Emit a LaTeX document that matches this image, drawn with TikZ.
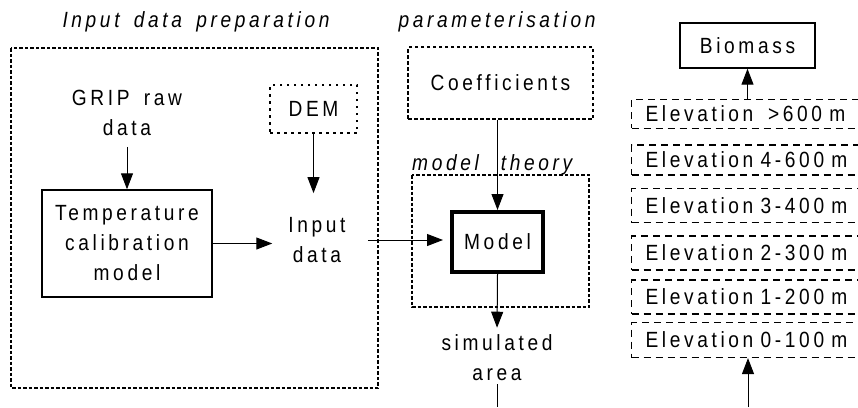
\documentclass[tikz,border=0pt]{standalone}
\usepackage{fontspec}
\setmainfont{Liberation Sans}[FakeStretch=0.87,LetterSpace=16.5,WordSpace=1.6]
\usetikzlibrary{arrows.meta}

\begin{document}
\begin{tikzpicture}[x=1pt,y=-1pt,
  every node/.style={font=\fontsize{22}{30}\selectfont, align=center},
  txt/.style={inner sep=0pt},
  lab/.style={inner sep=0pt, font=\fontsize{22}{30}\selectfont\itshape},
  box/.style={draw, line width=1.4pt, inner sep=0pt},
  dbox/.style={draw, line width=1.2pt, dash pattern=on 3.5pt off 2.5pt, inner sep=0pt},
  dotbox/.style={draw, line width=1.2pt, dash pattern=on 2.5pt off 4.5pt, inner sep=0pt},
  frame/.style={line width=1.2pt, dash pattern=on 3.5pt off 2pt},
  elev/.style={draw, line width=1.2pt, dash pattern=on 7pt off 5pt, anchor=west,
    text width=215pt, align=left, inner xsep=14pt, inner ysep=0pt},
  arr/.style={line width=1pt, -{Triangle[length=16pt,width=12pt]}}]

\clip (0,0) rectangle (858,407);

%% Input data preparation
\node[lab] (prep) at (196,22) {Input data preparation};
\draw[frame] (11,48) rectangle (378,388);

\node[txt] (grip) at (127,113) {GRIP raw\\data};
\node[box, minimum width=170pt, minimum height=107pt] (temp) at (127,243.5) {Temperature\\calibration\\model};
\node[dotbox, minimum width=87pt, minimum height=48pt] (dem) at (313.5,109) {DEM};
\node[txt] (input) at (317,240) {Input\\data};

\draw[arr] ([yshift=-11pt]grip.south) -- (temp.north);
\draw[arr, shorten >=24pt] (dem.south) -- (dem.south |- input.north);
\draw[arr, shorten >=16pt] (temp.east) -- (temp.east -| input.west);

%% parameterisation
\node[lab] (param) at (497,22) {parameterisation};
\node[dbox, minimum width=185pt, minimum height=72pt] (coef) at (500.5,83) {Coefficients};

%% model theory
\draw[frame] (412,175) rectangle (589,307);
\node[lab, anchor=base west] (theory) at (412,170) {model\hspace{22pt}theory};
\node[box, line width=4pt, minimum width=91pt, minimum height=60pt] (model) at (497.5,242) {Model};

\draw[arr] (model.north |- coef.south) -- (model.north);
\draw[arr, shorten <=22pt, shorten >=7pt] (input.east) -- (input.east -| model.west);

\node[txt] (sim) at (497,358) {simulated\\area};
\coordinate (simout) at (497,407);
\draw[arr, shorten >=7pt] (model.south) -- (sim.north);
\draw[line width=1pt, shorten <=3pt] (sim.south) -- (simout);

%% Biomass and elevation bands
\node[box, minimum width=135pt, minimum height=45pt] (bio) at (747.5,45.5) {Biomass};
\foreach \n/\yc/\h/\lbl in {0/340/35/0-100, 1/297/34/1-200, 2/253/34/2-300,
    3/205.5/34/3-400, 4/160/30/4-600, 5/113.8/29/{\ >600}}
  \node[elev, minimum height=\h pt] (e\n) at (631,\yc) {Elevation \lbl~m};

\coordinate (elevin) at (748,407);
\draw[arr] (elevin) -- (elevin |- e0.south);
\draw[arr] (bio.south |- e5.north) -- (bio.south);

\end{tikzpicture}
\end{document}
